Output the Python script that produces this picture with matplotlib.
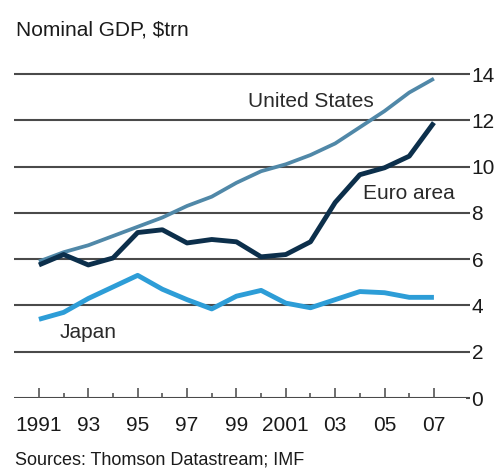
import matplotlib
matplotlib.use("Agg")
import matplotlib.pyplot as plt
from matplotlib.ticker import FixedLocator

plt.rcParams['font.family'] = ['Liberation Sans', 'DejaVu Sans']

years = list(range(1991, 2008))
us = [5.9, 6.3, 6.6, 7.0, 7.4, 7.8, 8.3, 8.7, 9.3, 9.8, 10.1, 10.5, 11.0, 11.7, 12.4, 13.2, 13.8]
euro = [5.75, 6.2, 5.75, 6.05, 7.15, 7.27, 6.7, 6.85, 6.75, 6.1, 6.2, 6.75, 8.45, 9.65, 9.95, 10.45, 11.9]
japan = [3.4, 3.7, 4.3, 4.8, 5.3, 4.7, 4.25, 3.85, 4.4, 4.65, 4.1, 3.9, 4.25, 4.6, 4.55, 4.35, 4.35]

yticks = [0, 2, 4, 6, 8, 10, 12, 14]
xtick_years = [1991, 1993, 1995, 1997, 1999, 2001, 2003, 2005, 2007]
xtick_labels = ["1991", "93", "95", "97", "99", "2001", "03", "05", "07"]
minor_years = [1992, 1994, 1996, 1998, 2000, 2002, 2004, 2006]

title = "Nominal GDP, $trn"
source = "Sources: Thomson Datastream; IMF"

W, H = 497, 469
fig = plt.figure(figsize=(W / 100, H / 100), dpi=100)
ax = fig.add_axes([14 / W, 1 - 398 / H, (466 - 14) / W, (398 - 50.9) / H])

grid_col = "#4a4a4a"
ax.set_xlim(1989.99, 2008.30)
ax.set_ylim(0, 15)

for v in yticks:
    ax.axhline(v, color=grid_col, lw=1.5, zorder=1)

ax.plot(years, us, color="#5088a8", lw=2.7, zorder=3, solid_capstyle="butt",
        solid_joinstyle="round")
ax.plot(years, euro, color="#0c2f4b", lw=3.5, zorder=4, solid_capstyle="butt",
        solid_joinstyle="round")
ax.plot(years, japan, color="#2d9dd7", lw=3.5, zorder=3, solid_capstyle="butt",
        solid_joinstyle="round")

for s in ax.spines.values():
    s.set_visible(False)

ax.yaxis.tick_right()
ax.set_yticks(yticks)
ax.set_yticklabels([str(v) for v in yticks])
ax.tick_params(axis="y", which="major", length=3, width=1.5, color=grid_col,
               pad=1, labelsize=15, labelcolor="#1a1a1a")

ax.xaxis.set_major_locator(FixedLocator(xtick_years))
ax.xaxis.set_minor_locator(FixedLocator(minor_years))
ax.set_xticklabels(xtick_labels)
ax.tick_params(axis="x", which="major", direction="in", length=7, width=1.2,
               color="#555555", pad=13, labelsize=15, labelcolor="#1a1a1a")
ax.tick_params(axis="x", which="minor", direction="in", length=3.5, width=1.2,
               color="#555555")

ax.text(1999.47, 12.58, "United States", fontsize=15, color="#2a2a2a",
        ha="left", va="baseline", zorder=5)
ax.text(2004.12, 8.6, "Euro area", fontsize=15, color="#2a2a2a",
        ha="left", va="baseline", zorder=5)
ax.text(1991.85, 2.59, "Japan", fontsize=15, color="#2a2a2a",
        ha="left", va="baseline", zorder=5)

fig.text(16 / W, 1 - 35 / H, title, fontsize=15, color="#1a1a1a",
         ha="left", va="baseline")
fig.text(15 / W, 1 - 464 / H, source, fontsize=13, color="#1a1a1a",
         ha="left", va="baseline")

fig.savefig("out.png", dpi=100)
